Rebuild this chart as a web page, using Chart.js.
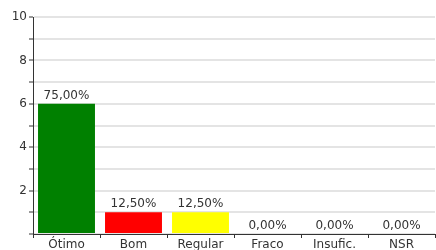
<!DOCTYPE html>
<html>
<head>
<meta charset="utf-8">
<script src="https://cdn.jsdelivr.net/npm/chart.js@4"></script>
<style>
  html, body { margin: 0; padding: 0; background: #fff; }
  #wrap { width: 436px; height: 250px; }
</style>
</head>
<body>
<div id="wrap"><canvas id="myChart"></canvas></div>
<script>
const categorias = ["Ótimo", "Bom", "Regular", "Fraco", "Insufic.", "NSR"];
const valores = [6, 1, 1, 0, 0, 0];
const percentuais = ["75,00%", "12,50%", "12,50%", "0,00%", "0,00%", "0,00%"];
const cores = ["#008000", "#ff0000", "#ffff00", "#808080", "#808080", "#808080"];
const yTicks = [2, 4, 6, 8, 10];

const fonte = { family: "DejaVu Sans", size: 12 };

// rotulos em cima das barras
const rotulos = {
    id: "rotulos",
    afterDatasetsDraw(chart) {
        const ctx = chart.ctx;
        const meta = chart.getDatasetMeta(0);
        ctx.save();
        ctx.font = "12px 'DejaVu Sans'";
        ctx.fillStyle = "#333";
        ctx.textAlign = "center";
        ctx.textBaseline = "bottom";
        meta.data.forEach((bar, i) => {
            ctx.fillText(percentuais[i], bar.x, bar.y - 2);
        });
        ctx.restore();
    }
};

const config = {
    type: "bar",
    data: {
        labels: categorias,
        datasets: [{
            data: valores,
            backgroundColor: cores,
            barPercentage: 0.85,
            categoryPercentage: 1
        }]
    },
    options: {
        responsive: true,
        maintainAspectRatio: false,
        animation: false,
        layout: { padding: { top: 17, right: 1, left: 0, bottom: 0 } },
        plugins: { legend: { display: false }, tooltip: { enabled: false } },
        scales: {
            x: {
                grid: { display: true, drawOnChartArea: false, drawTicks: true, tickLength: 4, color: "#333", offset: true },
                border: { color: "#333", width: 1 },
                ticks: { color: "#333", font: fonte, padding: 0, maxRotation: 0 },
                afterFit(scale) { scale.height = 16; }
            },
            y: {
                min: 0,
                max: 10,
                grid: { color: "#e4e4e4", lineWidth: 2, tickLength: 4, tickColor: "#333", tickWidth: 1 },
                border: { color: "#333", width: 1 },
                ticks: {
                    stepSize: 1,
                    color: "#333",
                    font: fonte,
                    padding: 2,
                    callback: (v) => yTicks.includes(v) ? String(v) : ""
                },
                afterFit(scale) { scale.width = 33; }
            }
        }
    },
    plugins: [rotulos]
};

const myChart = document.getElementById("myChart");
const chart = new Chart(myChart, config);
</script>
</body>
</html>
